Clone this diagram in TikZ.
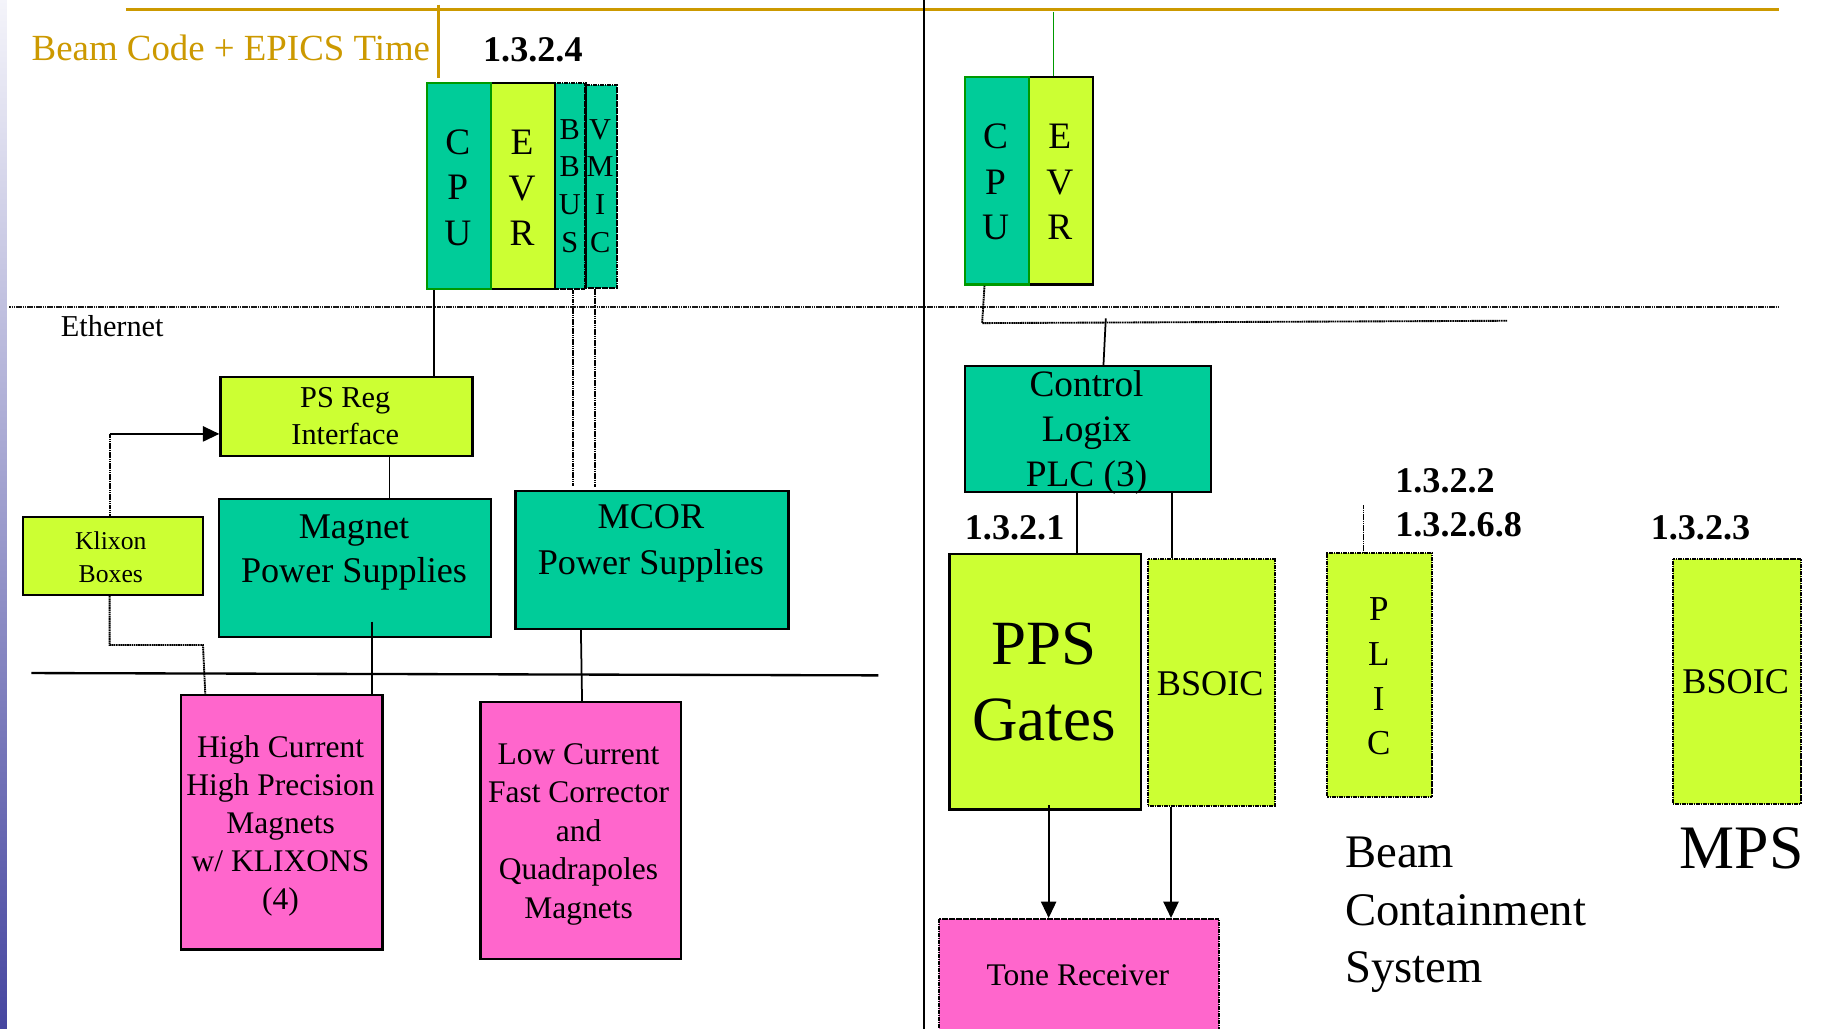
\documentclass[tikz,border=0pt]{standalone}
\usepackage{fontspec}
\setmainfont{Liberation Serif}
\usetikzlibrary{arrows.meta}
\definecolor{boxteal}{RGB}{0,204,153}
\definecolor{boxlime}{RGB}{204,255,51}
\definecolor{boxpink}{RGB}{255,102,204}
\definecolor{beamgold}{RGB}{204,153,0}
\definecolor{cpugreen}{RGB}{0,153,0}
\definecolor{edgetop}{RGB}{244,244,250}
\definecolor{edgemid}{RGB}{190,190,215}
\definecolor{edgebot}{RGB}{70,70,160}
\begin{document}
\begin{tikzpicture}[x=1pt, y=-1pt,
  unitbox/.style={draw=black, line width=2pt, inner sep=0pt, anchor=north west},
  tealbox/.style={unitbox, fill=boxteal},
  limebox/.style={unitbox, fill=boxlime},
  pinkbox/.style={unitbox, fill=boxpink},
  dotedge/.style={draw=black, dash pattern=on 1.5pt off 0.5pt, line width=1.8pt},
  cpuedge/.style={draw=cpugreen},
  txt/.style={inner sep=0pt, align=center},
  num/.style={inner sep=0pt, anchor=base west, font=\bfseries\fontsize{31}{37}\selectfont},
  wire/.style={line width=1.5pt},
  dotwire/.style={line width=1.6pt, dash pattern=on 1.4pt off 0.5pt},
  headtip/.style={-{Triangle[width=13pt,length=14pt]}},
]
\useasboundingbox (0,0) rectangle (1568,882);
\clip (0,0) rectangle (1568,882);

% slide edge
\shade[top color=edgetop, middle color=edgemid, bottom color=edgebot] (0,0) rectangle (6,882);

% timing and network lines
\coordinate (goldw) at (108,8);
\coordinate (golde) at (1525,8);
\draw[beamgold, line width=2.5pt] (goldw) -- (golde);
\coordinate (ethw) at (8,263);
\coordinate (ethe) at (1525,263);
\draw[black!90, line width=2pt, dash pattern=on 1.4pt off 0.5pt] (ethw) -- (ethe);
\coordinate (divtop) at (792,0);
\coordinate (divbot) at (792,882);
\draw[line width=2pt] (divtop) -- (divbot);
\coordinate (busw) at (27,577);
\coordinate (buse) at (753,579);
\draw[line width=2pt] (busw) -- (buse);

\node[anchor=base west, inner sep=0pt, text=beamgold, font=\fontsize{31.6}{38}\selectfont] (beamcode) at (27,51.5) {Beam Code + EPICS Time};
\node[num] (wbsfour) at (414,52.3) {1.3.2.4};
\node[anchor=base west, inner sep=0pt, font=\fontsize{26}{31}\selectfont] (ethlabel) at (52,288.6) {Ethernet};

% left VME crate
\node[tealbox, dotedge, minimum width=27pt, minimum height=174pt] (lvmic) at (501,72) {};
\node[tealbox, dotedge, minimum width=26pt, minimum height=177pt] (lbbus) at (475,70) {};
\node[limebox, minimum width=55pt, minimum height=177pt] (levr) at (420,70) {};
\node[tealbox, cpuedge, minimum width=55pt, minimum height=177pt] (lcpu) at (365,70) {};
\node[txt, font=\fontsize{32}{39}\selectfont] (lcputext) at (392.5,161) {C\\P\\U};
\node[txt, font=\fontsize{32}{39}\selectfont] (levrtext) at (447.5,161) {E\\V\\R};
\node[txt, font=\fontsize{26}{32.3}\selectfont] (lbbustext) at (488.5,159.5) {B\\B\\U\\S};
\node[txt, font=\fontsize{26}{32.3}\selectfont] (lvmictext) at (514.5,159.5) {V\\M\\I\\C};

% right IOC crate
\node[limebox, minimum width=55pt, minimum height=178pt] (revr) at (881,65) {};
\node[tealbox, cpuedge, minimum width=55pt, minimum height=178pt] (rcpu) at (826,65) {};
\node[txt, font=\fontsize{32}{39}\selectfont] (rcputext) at (853.5,156) {C\\P\\U};
\node[txt, font=\fontsize{32}{39}\selectfont] (revrtext) at (908.5,156) {E\\V\\R};

% magnet controls
\node[limebox, minimum width=216pt, minimum height=68pt] (psreg) at (188,322) {};
\node[txt, font=\fontsize{26}{32}\selectfont] (psregtext) at (296,357) {PS Reg\\Interface};
\node[limebox, minimum width=154pt, minimum height=67pt] (klixon) at (19,442) {};
\node[txt, font=\fontsize{22}{28}\selectfont] (klixontext) at (95,477.8) {Klixon\\Boxes};
\node[tealbox, minimum width=233pt, minimum height=118pt] (magnet) at (187,427) {};
\node[txt, font=\fontsize{31}{38}\selectfont] (magnettext) at (303.5,473.4) {Magnet\\Power Supplies};
\node[tealbox, minimum width=234pt, minimum height=118pt] (mcor) at (441,420) {};
\node[txt, font=\fontsize{31}{39}\selectfont] (mcortext) at (558,465.7) {MCOR\\Power Supplies};
\node[pinkbox, minimum width=173pt, minimum height=218pt] (hicur) at (154,595) {};
\node[txt, font=\fontsize{27}{32.5}\selectfont] (hicurtext) at (240.5,708) {High Current\\High Precision\\Magnets\\w/ KLIXONS\\(4)};
\node[pinkbox, minimum width=172pt, minimum height=220pt] (lowcur) at (411,601) {};
\node[txt, font=\fontsize{27}{33}\selectfont] (lowcurtext) at (496,715) {Low Current\\Fast Corrector\\and\\Quadrapoles\\Magnets};

% protection systems
\node[tealbox, minimum width=211pt, minimum height=108pt] (ctrl) at (826,313) {};
\node[txt, font=\fontsize{32}{38.5}\selectfont] (ctrltext) at (931.5,371) {Control\\Logix\\PLC (3)};
\node[num] (wbsone) at (827,462.3) {1.3.2.1};
\node[limebox, minimum width=164pt, minimum height=219pt] (pps) at (813,474) {};
\node[txt, font=\fontsize{54}{65}\selectfont] (ppstext) at (895,584.5) {PPS\\Gates};
\node[limebox, dotedge, minimum width=109pt, minimum height=212pt] (bsoicone) at (983,478) {};
\node[txt, font=\fontsize{31}{37}\selectfont] (bsoiconetext) at (1037.5,586) {BSOIC};
\node[pinkbox, dotedge, minimum width=240pt, minimum height=120pt] (tone) at (804,787) {};
\node[txt, font=\fontsize{27}{32}\selectfont] (tonetext) at (924,836) {Tone Receiver};

\node[num] (wbstwo) at (1196,422.3) {1.3.2.2};
\node[num] (wbssix) at (1196,460.3) {1.3.2.6.8};
\node[limebox, dotedge, minimum width=90pt, minimum height=209pt] (plic) at (1137,473) {};
\node[txt, font=\fontsize{30}{38.3}\selectfont] (plictext) at (1182,580) {P\\L\\I\\C};
\node[anchor=west, inner sep=0pt, align=left, font=\fontsize{40}{49}\selectfont] (bcs) at (1153,784.3) {Beam\\Containment\\System};

\node[num] (wbsthree) at (1415,462.3) {1.3.2.3};
\node[limebox, dotedge, minimum width=110pt, minimum height=210pt] (bsoictwo) at (1433,478) {};
\node[txt, font=\fontsize{31}{37}\selectfont] (bsoictwotext) at (1488,584) {BSOIC};
\node[anchor=west, inner sep=0pt, font=\fontsize{53}{60}\selectfont] (mps) at (1440,727) {MPS};

% connectors
\draw[beamgold, line width=2pt] ([xshift=11pt, yshift=66pt]lcpu.north west) -- ([xshift=11pt, yshift=3pt]lcpu.north west);
\draw[cpugreen, line width=1.2pt] ([xshift=-6.5pt, yshift=55pt]revr.north) -- ([xshift=-6.5pt]revr.north);
\draw[wire] ([xshift=-21.5pt]lcpu.south) -- ([xshift=-21.5pt]lcpu.south |- psreg.north);
\draw[dotwire] ([xshift=2pt]lbbus.south) -- ([xshift=2pt, yshift=3pt]lbbus.south |- mcor.north);
\draw[dotwire] ([xshift=-5.5pt]lvmic.south) -- ([xshift=-5.5pt, yshift=3pt]lvmic.south |- mcor.north);
\draw[wire] ([xshift=37pt]psreg.south) -- ([xshift=37pt]psreg.south |- magnet.north);
\coordinate (kbend) at ([xshift=-3pt, yshift=-15pt]klixon.north |- psreg.west);
\draw[dotwire] ([xshift=-3pt]klixon.north) -- (kbend);
\draw[wire, headtip] (kbend) -- ([yshift=-15pt]psreg.west);
\draw[dotwire] ([xshift=-3pt]klixon.south) -- ++(0,42) -- ++(80,0) -- ([xshift=22pt]hicur.north west);
\draw[wire] ([xshift=14.5pt, yshift=14pt]magnet.south) -- ([xshift=14.5pt]magnet.south |- hicur.north);
\draw[wire] ([xshift=-61pt]mcor.south) -- ([xshift=-60pt]mcor.south |- lowcur.north);

\coordinate (plcbus) at (1292,275);
\draw[dotwire] ([xshift=-10.5pt]rcpu.south) -- ++(-2,32) -- (plcbus);
\draw[wire] ([xshift=15.5pt, yshift=40pt]ctrl.north) -- ([xshift=13.5pt]ctrl.north);
\draw[wire] ([xshift=-9.5pt]ctrl.south) -- ([xshift=-9.5pt]ctrl.south |- pps.north);
\draw[wire] ([xshift=72.5pt]ctrl.south) -- ([xshift=72.5pt]ctrl.south |- bsoicone.north);
\draw[wire, headtip] ([xshift=3pt, yshift=5pt]pps.south) -- ([xshift=3pt]pps.south |- tone.north);
\draw[wire, headtip] ([xshift=-34.5pt]bsoicone.south) -- ([xshift=-34.5pt]bsoicone.south |- tone.north);
\draw[line width=1.2pt, dash pattern=on 1.4pt off 0.5pt] ([xshift=-14pt, yshift=40pt]plic.north) -- ([xshift=-14pt]plic.north);
\end{tikzpicture}
\end{document}
